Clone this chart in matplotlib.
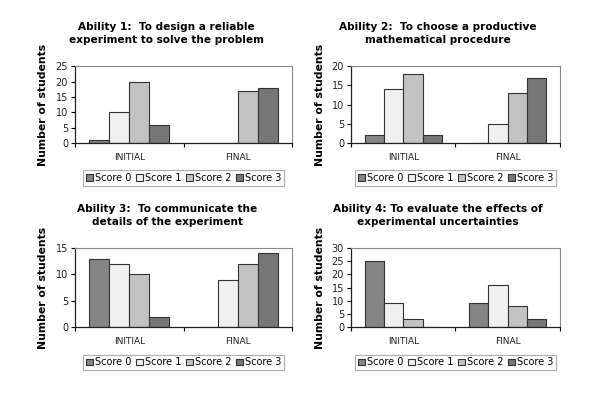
import numpy as np
import matplotlib
matplotlib.use('Agg')
import matplotlib.pyplot as plt

# data
phases = ['INITIAL', 'FINAL']
score_names = ['Score 0', 'Score 1', 'Score 2', 'Score 3']
titles = [
    'Ability 1:  To design a reliable\nexperiment to solve the problem',
    'Ability 2:  To choose a productive\nmathematical procedure',
    'Ability 3:  To communicate the\ndetails of the experiment',
    'Ability 4: To evaluate the effects of\nexperimental uncertainties',
]
# counts per score (0..3) for the INITIAL and FINAL tests
ability1_initial = [1, 10, 20, 6]
ability1_final = [0, 0, 17, 18]
ability2_initial = [2, 14, 18, 2]
ability2_final = [0, 5, 13, 17]
ability3_initial = [13, 12, 10, 2]
ability3_final = [0, 9, 12, 14]
ability4_initial = [25, 9, 3, 0]
ability4_final = [9, 16, 8, 3]
y_max = [25, 20, 15, 30]
y_step = [5, 5, 5, 5]

initial_counts = [ability1_initial, ability2_initial, ability3_initial, ability4_initial]
final_counts = [ability1_final, ability2_final, ability3_final, ability4_final]

score_colors = ['#858585', '#f0f0f0', '#c2c2c2', '#767676']

fig = plt.figure(figsize=(6.0, 3.94), dpi=100)

# axes rectangles in figure fractions
positions = [
    [0.125, 0.637, 0.362, 0.195],
    [0.585, 0.637, 0.348, 0.195],
    [0.125, 0.170, 0.362, 0.200],
    [0.585, 0.170, 0.348, 0.200],
]
title_x = [166 / 600, 438 / 600, 167 / 600, 438 / 600]
title_y = [1 - 33.5 / 394, 1 - 33.5 / 394, 1 - 215.5 / 394, 1 - 215.5 / 394]

bar_w = 0.185
x = np.arange(len(phases))

for k in range(4):
    ax = fig.add_axes(positions[k])
    for i, name in enumerate(score_names):
        vals = [initial_counts[k][i], final_counts[k][i]]
        ax.bar(x + (i - 1.5) * bar_w, vals, width=bar_w,
               color=score_colors[i], edgecolor='#333333', linewidth=0.8,
               label=name)
    ax.set_xlim(-0.5, 1.5)
    ax.set_ylim(0, y_max[k])
    ax.set_yticks(np.arange(0, y_max[k] + 1, y_step[k]))
    ax.set_xticks(x)
    ax.set_xticklabels(phases, fontsize=6.5, color='#222222')
    ax.set_xticks([-0.5, 0.5, 1.5], minor=True)
    ax.tick_params(axis='x', which='major', length=0, pad=7)
    ax.tick_params(axis='x', which='minor', length=3, width=0.8)
    ax.tick_params(axis='y', labelsize=7, length=3, width=0.8, pad=2,
                   labelcolor='#222222')
    for side in ['top', 'right']:
        ax.spines[side].set_color('#888888')
        ax.spines[side].set_linewidth(0.8)
    for side in ['left', 'bottom']:
        ax.spines[side].set_color('#222222')
        ax.spines[side].set_linewidth(0.9)
    ax.set_ylabel('Number of students', fontsize=7.8, fontweight='bold')
    ax.yaxis.set_label_coords(-0.124, 0.5)
    fig.text(title_x[k], title_y[k], titles[k], ha='center', va='center',
             fontsize=7.6, fontweight='bold', linespacing=1.3)
    leg = ax.legend(loc='center', bbox_to_anchor=(0.5, -0.45), ncol=4,
                    fontsize=7, frameon=True, fancybox=False,
                    handlelength=0.7, handleheight=0.7, handletextpad=0.2,
                    columnspacing=0.5, borderpad=0.3)
    leg.get_frame().set_edgecolor('#999999')
    leg.get_frame().set_linewidth(0.8)

plt.savefig('out.png', dpi=100)
plt.close()
